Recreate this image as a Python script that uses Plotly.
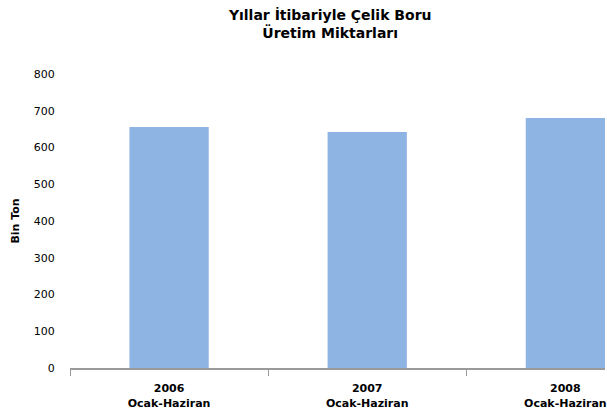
import plotly.graph_objects as go

categories = ["2006<br>Ocak-Haziran", "2007<br>Ocak-Haziran", "2008<br>Ocak-Haziran"]
values = [656, 642, 680]
y_ticks = [0, 100, 200, 300, 400, 500, 600, 700, 800]

FONT = "DejaVu Sans, Verdana, sans-serif"

fig = go.Figure(go.Bar(x=categories, y=values, marker=dict(color="#8EB4E3", line=dict(width=0)),
                       hoverinfo="skip"))

fig.update_layout(
    width=607, height=416,
    margin=dict(l=70, r=0, t=74, b=48),
    paper_bgcolor="white", plot_bgcolor="white",
    bargap=0.6,
    showlegend=False,
    font=dict(family=FONT, color="black"),
    title=dict(
        text="<b>Yıllar İtibariyle Çelik Boru<br>Üretim Miktarları</b>",
        x=0.544, xref="container", xanchor="center",
        y=0.953, yref="container", yanchor="top",
        font=dict(size=14, family=FONT),
    ),
)

fig.update_xaxes(
    type="category",
    range=[-0.5, 2.2],
    showline=True, linecolor="#9A9A9A", linewidth=2,
    ticks="outside", tickson="boundaries", ticklen=6, tickcolor="#9A9A9A",
    ticklabelstandoff=9,
    tickfont=dict(size=11, family=FONT),
    tickprefix="<b>", ticksuffix="</b>",
    showgrid=False, zeroline=False,
)

fig.update_yaxes(
    range=[0, 800],
    tickvals=y_ticks,
    showline=False, showgrid=False, zeroline=False,
    ticks="outside", ticklen=12, tickcolor="rgba(0,0,0,0)",
    tickfont=dict(size=11, family=FONT),
    title=dict(text="<b>Bin Ton</b>", font=dict(size=11, family=FONT), standoff=11),
)

fig.write_html(
    "out.html",
    config={"displayModeBar": False, "staticPlot": True},
    post_script="document.body.style.margin='0';document.body.style.overflow='hidden';",
)
